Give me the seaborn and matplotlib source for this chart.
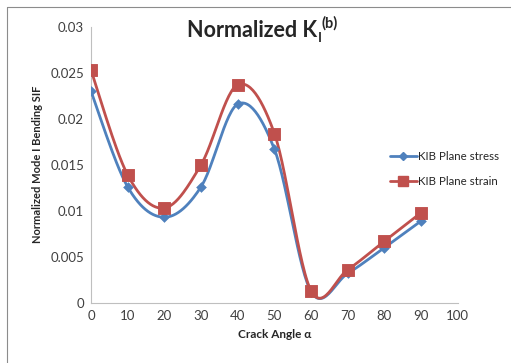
import numpy as np
import pandas as pd
import matplotlib
matplotlib.use('Agg')
import matplotlib.pyplot as plt
import seaborn as sns
from matplotlib.lines import Line2D

# ------------------------------------------------------
# DATA
# ------------------------------------------------------
angles = [0, 10, 20, 30, 40, 50, 60, 70, 80, 90]
plane_stress = [0.0230, 0.0126, 0.0093, 0.0126, 0.0216, 0.0167, 0.0012, 0.0032, 0.0060, 0.0089]
plane_strain = [0.0253, 0.0139, 0.0103, 0.0150, 0.0237, 0.0184, 0.0013, 0.0036, 0.0067, 0.0098]
series_names = ['KIB Plane stress', 'KIB Plane strain']

data = pd.DataFrame({'angle': angles * 2,
                     'sif': plane_stress + plane_strain,
                     'series': [series_names[0]] * len(angles) + [series_names[1]] * len(angles)})

blue = '#4F81BD'
red = '#C0504D'
colors = {series_names[0]: blue, series_names[1]: red}
markers = {series_names[0]: 'D', series_names[1]: 's'}
msizes = {series_names[0]: 5, series_names[1]: 8}


def smooth(x, y, n=30):
	# Excel-like smoothed line (Catmull-Rom Bezier)
	x = np.asarray(x, float)
	y = np.asarray(y, float)
	pts = np.column_stack([x, y])
	out = []
	for i in range(len(pts) - 1):
		p0 = pts[i - 1] if i > 0 else pts[i]
		p1 = pts[i]
		p2 = pts[i + 1]
		p3 = pts[i + 2] if i + 2 < len(pts) else pts[i + 1]
		c1 = p1 + (p2 - p0) / 6
		c2 = p2 - (p3 - p1) / 6
		t = np.linspace(0, 1, n)[:, None]
		seg = (1 - t) ** 3 * p1 + 3 * (1 - t) ** 2 * t * c1 + 3 * (1 - t) * t ** 2 * c2 + t ** 3 * p2
		out.append(seg)
	out = np.vstack(out)
	return out[:, 0], out[:, 1]


# ------------------------------------------------------
# PLOT
# ------------------------------------------------------
sns.set_style('white')
plt.rcParams['font.family'] = ['Lato', 'DejaVu Sans']

fig = plt.figure(figsize=(5.11, 3.63), dpi=100)
ax = fig.add_axes([0.178, 0.166, 0.718, 0.76])

for name in series_names:
	sub = data[data['series'] == name]
	sx, sy = smooth(sub['angle'], sub['sif'])
	ax.plot(sx, sy, color=colors[name], lw=2, zorder=2)
	sns.scatterplot(x=sub['angle'], y=sub['sif'], marker=markers[name], s=msizes[name] ** 2,
		color=colors[name], edgecolor=colors[name], ax=ax, zorder=3, legend=False)

ax.set_xlim(0, 100)
ax.set_ylim(0, 0.03)
ax.set_xticks(range(0, 101, 10))
ax.set_yticks([0, 0.005, 0.01, 0.015, 0.02, 0.025, 0.03])
ax.set_yticklabels(['0', '0.005', '0.01', '0.015', '0.02', '0.025', '0.03'])
ax.tick_params(axis='both', length=0, labelsize=9.5, colors='#404040', pad=5)
for s in ['top', 'right']:
	ax.spines[s].set_visible(False)
for s in ['left', 'bottom']:
	ax.spines[s].set_color('#BFBFBF')
	ax.spines[s].set_linewidth(0.8)

ax.set_xlabel('Crack Angle α', fontsize=8.5, fontweight='bold', labelpad=5)
ax.set_ylabel('Normalized Mode I Bending SIF', fontsize=8, fontweight='bold', labelpad=5)

# Title with small subscript / superscript
title = fig.text(0.366, 0.897, 'Normalized K', fontsize=15.5, fontweight='bold', ha='left', va='baseline')
fig.canvas.draw()
bb = title.get_window_extent(renderer=fig.canvas.get_renderer())
x_end = bb.x1 / fig.bbox.width
fig.text(x_end + 0.002, 0.885, 'I', fontsize=9.5, fontweight='bold', ha='left', va='baseline')
fig.text(x_end + 0.009, 0.925, '(b)', fontsize=10.5, fontweight='bold', ha='left', va='baseline')

handles = [Line2D([], [], color=colors[n], lw=2, marker=markers[n], markersize=msizes[n] * 0.9)
	for n in series_names]
fig.legend(handles, series_names, loc='center left', bbox_to_anchor=(0.752, 0.535), frameon=False,
	fontsize=8.3, handlelength=2.3, handletextpad=0.15, labelspacing=1.25, borderpad=0)

# outer chart border
fig.add_artist(Line2D([7 / 511, 7 / 511], [0, 1 - 7 / 363], color='#8C8C8C', lw=0.8))
fig.add_artist(Line2D([7 / 511, 1], [1 - 7 / 363, 1 - 7 / 363], color='#8C8C8C', lw=0.8))

fig.savefig('out.png', dpi=100)
